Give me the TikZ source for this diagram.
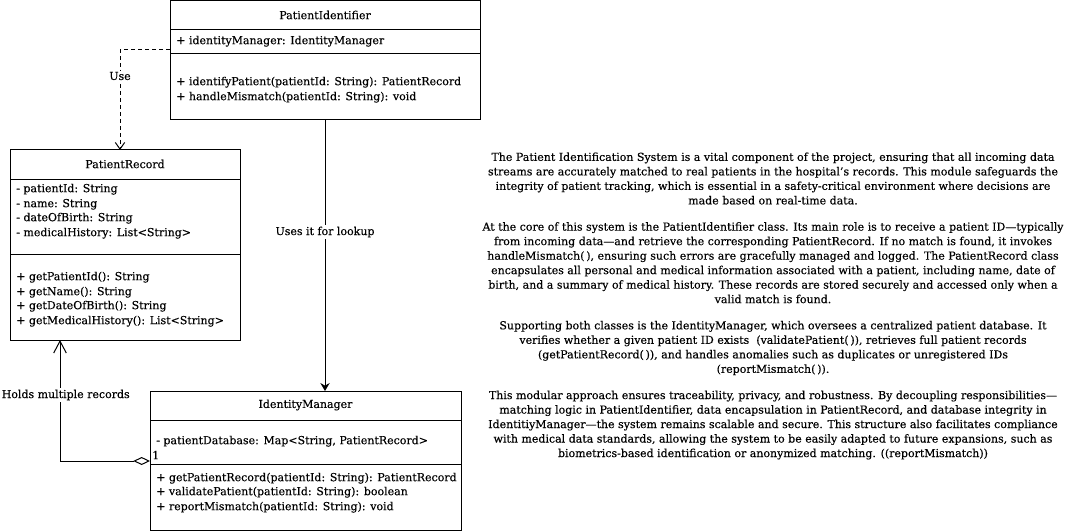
\documentclass[tikz,border=0pt]{standalone}
\usepackage{fontspec}
\setmainfont{DejaVu Serif}[FakeBold=0.3]
\usetikzlibrary{arrows.meta}
\newcommand{\fs}{\fontsize{8.25pt}{10.875pt}\selectfont}
\tikzset{
  cls/.style={draw, line width=0.75pt, inner sep=0pt, outer sep=0pt, anchor=north west},
  sep/.style={line width=0.75pt},
  title/.style={inner sep=0pt, font=\fs},
  member/.style={inner sep=0pt, anchor=west, font=\fs, text height=6.4pt, text depth=1.7pt},
  lbl/.style={inner sep=1pt, fill=white, font=\fs},
  conn/.style={line width=0.75pt},
  dep/.style={conn, dashed, dash pattern=on 3pt off 2.25pt, -{Straight Barb[length=5pt,width=7pt]}},
  assoc/.style={conn, -{Stealth[length=6pt,width=7pt,inset=2pt]}},
  agg/.style={conn, {Diamond[open,length=12.5pt,width=6pt,fill=white]}-{Straight Barb[length=9pt,width=9.5pt]}},
  para/.style={inner sep=0pt, align=center, font=\fs}
}
\begin{document}
\begin{tikzpicture}[x=0.75pt,y=-0.75pt]
\useasboundingbox[fill=white] (0,0) rectangle (1071,531);

% PatientIdentifier
\node[cls, minimum width=232.5pt, minimum height=89.25pt] (pi) at (170,1) {};
\draw[sep] (170,30) -- (480,30);
\draw[sep] (170,54) -- (480,54);
\node[title] (piT) at (325,15) {PatientIdentifier};
\node[member] (pi1) at (176,41) {+ identityManager: IdentityManager};
\node[member] (pi2) at (176,82) {+ identifyPatient(patientId: String): PatientRecord};
\node[member] (pi3) at (176,97) {+ handleMismatch(patientId: String): void};

% PatientRecord
\node[cls, minimum width=172.5pt, minimum height=142.5pt] (pr) at (10,150) {};
\draw[sep] (10,180) -- (240,180);
\draw[sep] (10,254) -- (240,254);
\node[title] (prT) at (125,164) {PatientRecord};
\node[member] (pr1) at (16,189) {- patientId: String};
\node[member] (pr2) at (16,204) {- name: String};
\node[member] (pr3) at (16,218) {- dateOfBirth: String};
\node[member] (pr4) at (16,233) {- medicalHistory: List<String>};
\node[member] (pr5) at (16,277) {+ getPatientId(): String};
\node[member] (pr6) at (16,292) {+ getName(): String};
\node[member] (pr7) at (16,306) {+ getDateOfBirth(): String};
\node[member] (pr8) at (16,321) {+ getMedicalHistory(): List<String>};

% IdentityManager
\node[cls, minimum width=233.25pt, minimum height=104.25pt] (im) at (150,391) {};
\draw[sep] (150,420) -- (461,420);
\draw[sep] (150,464) -- (461,464);
\node[title] (imT) at (305.5,405) {IdentityManager};
\node[member] (im1) at (156,441) {- patientDatabase: Map<String, PatientRecord>};
\node[member] (im2) at (156,478) {+ getPatientRecord(patientId: String): PatientRecord};
\node[member] (im3) at (156,492) {+ validatePatient(patientId: String): boolean};
\node[member] (im4) at (156,507) {+ reportMismatch(patientId: String): void};

% Connectors
\draw[dep] (pi.west |- 0,50) -| (pr.north -| 120,0);
\node[lbl] (useL) at (120,76) {Use};

\draw[assoc] (pi.south) -- (pi.south |- im.north);
\node[lbl] (lookL) at (325,232) {Uses it for lookup};

\draw[agg] (im.west |- 0,461) -| (pr.south -| 60,0);
\node[lbl, anchor=west, inner xsep=0pt] (holdL) at (1.5,395) {Holds multiple records};
\node[title, anchor=west] (one) at (152,455) {1};

% Description
\node[para] (desc) at (773,306) {%
The Patient Identification System is a vital component of the project, ensuring that all incoming data\\
streams are accurately matched to real patients in the hospital's records. This module safeguards the\\
integrity of patient tracking, which is essential in a safety-critical environment where decisions are\\
made based on real-time data.\\[8.8pt]
At the core of this system is the PatientIdentifier class. Its main role is to receive a patient ID—typically\\
from incoming data—and retrieve the corresponding PatientRecord. If no match is found, it invokes\\
handleMismatch(\,), ensuring such errors are gracefully managed and logged. The PatientRecord class\\
encapsulates all personal and medical information associated with a patient, including name, date of\\
birth, and a summary of medical history. These records are stored securely and accessed only when a\\
valid match is found.\\[8.8pt]
Supporting both classes is the IdentityManager, which oversees a centralized patient database. It\\
verifies whether a given patient ID exists\ \ (validatePatient(\,)), retrieves full patient records\\
(getPatientRecord(\,)), and handles anomalies such as duplicates or unregistered IDs\\
(reportMismatch(\,)).\\[8.8pt]
This modular approach ensures traceability, privacy, and robustness. By decoupling responsibilities—\\
matching logic in PatientIdentifier, data encapsulation in PatientRecord, and database integrity in\\
IdentitiyManager—the system remains scalable and secure. This structure also facilitates compliance\\
with medical data standards, allowing the system to be easily adapted to future expansions, such as\\
biometrics-based identification or anonymized matching. ((reportMismatch))};
\end{tikzpicture}
\end{document}
